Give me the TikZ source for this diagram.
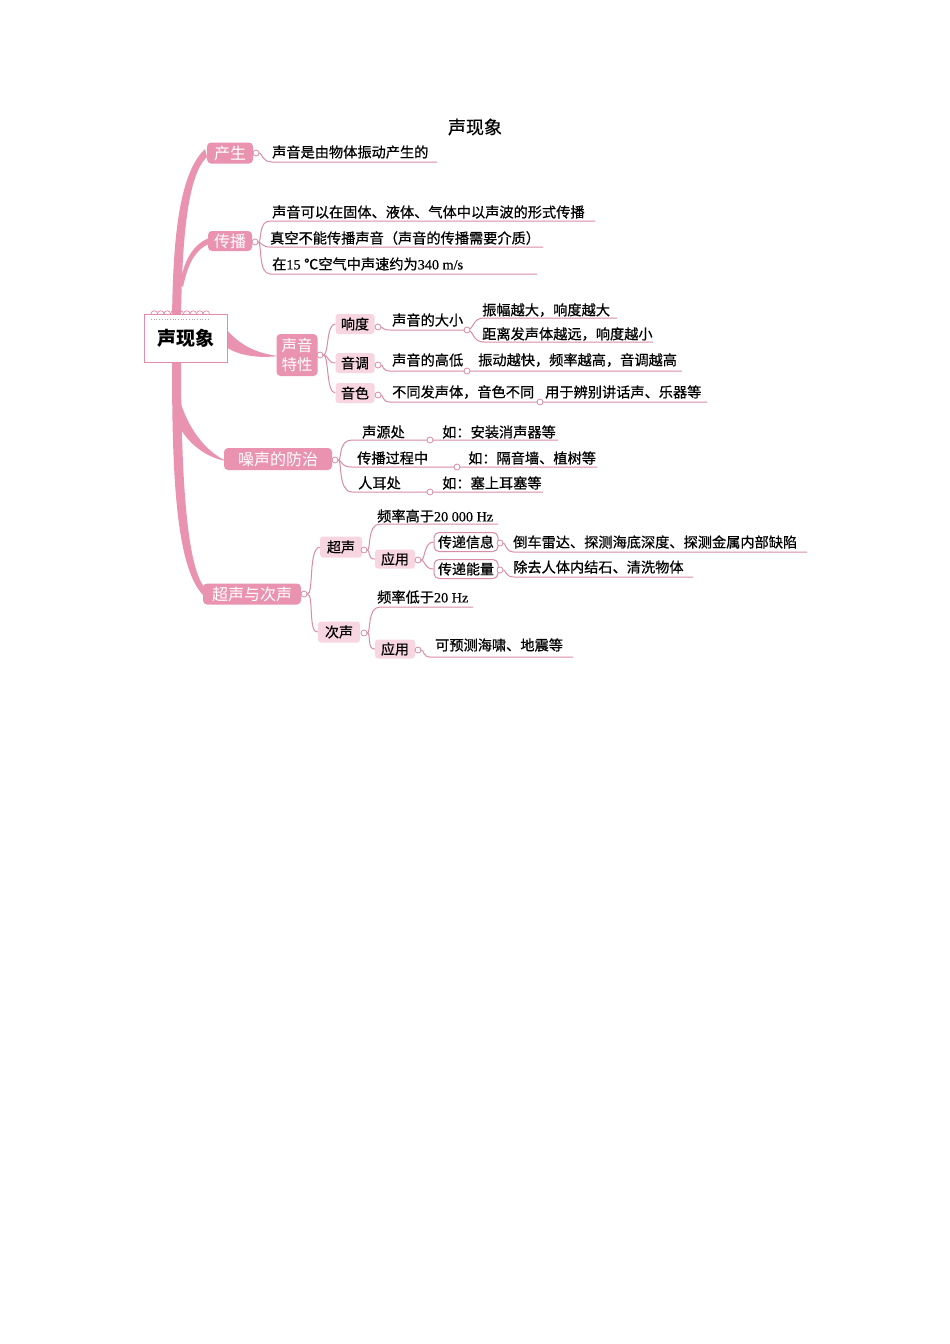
\documentclass[tikz,border=0pt]{standalone}
\usepackage{fontspec}
\setmainfont{Noto Sans CJK SC}
\newfontfamily\heavy[FakeBold=0.6]{Noto Sans CJK SC}
\newfontfamily\lat[FakeBold=0.4]{Liberation Serif}
\definecolor{pinkA}{HTML}{EA93B1}
\definecolor{pinkL}{HTML}{F7D6E1}
\definecolor{lineC}{HTML}{D98CA6}
\definecolor{boxC}{HTML}{E58AA8}
\tikzset{
 mainnode/.style={fill=pinkA, rounded corners=4pt, text=white, font=\fontsize{16}{18}\selectfont, inner sep=0pt, minimum height=21pt},
 subnode/.style={fill=pinkL, rounded corners=3pt, text=black, font=\heavy\fontsize{14}{16}\selectfont, inner sep=0pt, minimum height=20pt, minimum width=39pt},
 outnode/.style={fill=white, draw=lineC, line width=1pt, rounded corners=5pt, font=\heavy\fontsize{14}{16}\selectfont, inner sep=0pt, minimum height=19pt, minimum width=64pt},
 leaf/.style={anchor=west, inner sep=0pt, font=\heavy\fontsize{14.2}{16}\selectfont},
 dot/.style={circle, draw=lineC, fill=white, line width=0.8pt, inner sep=0pt, minimum size=6pt},
 conn/.style={draw=lineC, line width=1pt},
 trunk/.style={fill=pinkA},
}
\begin{document}
\begin{tikzpicture}[x=1pt,y=-1pt]
\fill[white] (0,0) rectangle (950,1344);
\useasboundingbox (0,0) rectangle (950,1344);

% title
\node[font=\heavy\fontsize{18}{20}\selectfont] (title) at (475,127) {声现象};

% trunk and thick branches
\fill[trunk] (172,318) .. controls (173,250) and (177,175) .. (205,149) -- (207,157) .. controls (186,176) and (182,250) .. (181,318) -- cycle;
\fill[trunk] (180,284) .. controls (184,259) and (194,244) .. (209,238) -- (209,244) .. controls (196,249) and (188,263) .. (183,287) -- cycle;
\fill[trunk] (172,358) .. controls (172,470) and (175,570) .. (205,597) -- (206,589) .. controls (186,570) and (181,470) .. (181,358) -- cycle;
\fill[trunk] (179,398) .. controls (188,428) and (204,450) .. (226,461) .. controls (204,457) and (188,442) .. (180,428) -- cycle;
\fill[trunk] (226,329) .. controls (240,345) and (255,353) .. (278,356) .. controls (255,359) and (236,354) .. (226,347) -- cycle;

% central node
\node[draw=boxC, fill=white, line width=0.8pt, minimum width=83pt, minimum height=48pt, inner sep=0pt, font=\bfseries\fontsize{19}{20}\selectfont] (root) at (185.5,338) {声现象};
\foreach \i in {0,...,8} \draw[boxC, line width=0.7pt] ({151+\i*6.5},314) arc[start angle=180, end angle=0, radius=3.25pt];
\draw[gray!70, dotted, line width=0.7pt] (151,319) -- (208,319);

% main nodes
\node[mainnode, minimum width=46pt] (cs) at (230,153) {产生};
\node[mainnode, minimum width=44pt, minimum height=20pt] (cb) at (230,241) {传播};
\node[mainnode, minimum width=41pt, minimum height=42pt, align=center, font=\fontsize{15.5}{19}\selectfont] (tx) at (297,355) {声音\\特性};
\node[mainnode, minimum width=108pt, minimum height=22pt] (zs) at (278,459) {噪声的防治};
\node[mainnode, minimum width=98pt] (cc) at (252,594) {超声与次声};

% sub nodes
\node[subnode] (xd) at (355,324) {响度};
\node[subnode] (yd) at (355,363) {音调};
\node[subnode] (ys) at (355,393) {音色};
\node[subnode, minimum width=42pt, minimum height=21pt] (cs2) at (341,547) {超声};
\node[subnode, minimum width=40pt, minimum height=19pt] (yy) at (395,559) {应用};
\node[subnode, minimum width=42pt, minimum height=21pt] (cx) at (339,632) {次声};
\node[subnode, minimum width=40pt, minimum height=19pt] (yy2) at (395,649) {应用};
\node[outnode] (xx) at (466,542) {传递信息};
\node[outnode] (nl) at (466,569) {传递能量};

% dots at node exits
\node[dot] (d1) at (256,153) {};
\node[dot] (d2) at (255,242) {};
\node[dot] (d3) at (320,355) {};
\node[dot] (d4) at (335,460) {};
\node[dot] (d5) at (304,594) {};
\node[dot] (dxd) at (378,327) {};
\node[dot] (dyd) at (378,365) {};
\node[dot] (dys) at (378,395) {};
\node[dot] (dcs) at (364,550) {};
\node[dot] (dyy) at (418,560) {};
\node[dot] (dcx) at (364,633) {};
\node[dot] (dyy2) at (418,650) {};
\node[dot] (dxx) at (500,543) {};
\node[dot] (dnl) at (500,570) {};

% underline end points
\coordinate (e1) at (437,162);
\coordinate (e2a) at (595,221);
\coordinate (e2b) at (543,247);
\coordinate (e2c) at (537,274);
\coordinate (mA) at (467,330);
\coordinate (e3a) at (617,318);
\coordinate (e3b) at (653,342);
\coordinate (e3c) at (682,371);
\coordinate (e3d) at (707,402);
\coordinate (e4a) at (558,440);
\coordinate (e4b) at (597,467);
\coordinate (e4c) at (543,492);
\coordinate (e5a) at (498,524);
\coordinate (e5b) at (807,552);
\coordinate (e5c) at (693,577);
\coordinate (e5d) at (473,607);
\coordinate (e5e) at (573,657);

% connectors
\draw[conn] (d1) .. controls (262,153) and (262,162) .. (272,162) -- (e1);
\draw[conn] (d2) .. controls (262,242) and (258,221) .. (270,221) -- (e2a);
\draw[conn] (d2) .. controls (261,242) and (262,247) .. (270,247) -- (e2b);
\draw[conn] (d2) .. controls (262,242) and (258,274) .. (270,274) -- (e2c);

\draw[conn] (d3) .. controls (329,355) and (326,324) .. (xd.west);
\draw[conn] (d3) .. controls (329,355) and (327,363) .. (yd.west);
\draw[conn] (d3) .. controls (329,355) and (326,393) .. (ys.west);

\draw[conn] (dxd) .. controls (383,327) and (382,330) .. (390,330) -- (mA);
\draw[conn] (mA) .. controls (474,330) and (472,318) .. (484,318) -- (e3a);
\draw[conn] (mA) .. controls (474,330) and (472,342) .. (484,342) -- (e3b);
\draw[conn] (dyd) .. controls (383,365) and (382,371) .. (390,371) -- (e3c);
\draw[conn] (dys) .. controls (383,395) and (382,402) .. (390,402) -- (e3d);

\draw[conn] (d4) .. controls (342,460) and (338,440) .. (352,440) -- (e4a);
\draw[conn] (d4) .. controls (342,460) and (340,467) .. (352,467) -- (e4b);
\draw[conn] (d4) .. controls (342,460) and (338,492) .. (352,492) -- (e4c);

\draw[conn] (d5) .. controls (314,594) and (308,549) .. (cs2.west);
\draw[conn] (d5) .. controls (314,594) and (308,634) .. (cx.west);
\draw[conn] (dcs) .. controls (371,550) and (367,524) .. (380,524) -- (e5a);
\draw[conn] (dcs) .. controls (370,550) and (368,560) .. (yy.west);
\draw[conn] (dyy) .. controls (425,560) and (424,542) .. (xx.west);
\draw[conn] (dyy) .. controls (425,560) and (424,569) .. (nl.west);
\draw[conn] (dxx) .. controls (506,543) and (505,552) .. (514,552) -- (e5b);
\draw[conn] (dnl) .. controls (506,570) and (505,577) .. (514,577) -- (e5c);
\draw[conn] (dcx) .. controls (371,633) and (367,607) .. (380,607) -- (e5d);
\draw[conn] (dcx) .. controls (371,633) and (367,650) .. (yy2.west);
\draw[conn] (dyy2) .. controls (424,650) and (423,657) .. (430,657) -- (e5e);

% dots sitting on lines
\node[dot] (m1) at (mA) {};
\node[dot] (m2) at (467,371) {};
\node[dot] (m3) at (540,402) {};
\node[dot] (m4) at (430,440) {};
\node[dot] (m5) at (457,467) {};
\node[dot] (m6) at (430,492) {};

% leaf texts
\node[leaf] (t1) at (272,152) {声音是由物体振动产生的};
\node[leaf] (t2a) at (272,212) {声音可以在固体、液体、气体中以声波的形式传播};
\node[leaf] (t2b) at (270,238) {真空不能传播声音（声音的传播需要介质）};
\node[leaf] (t2c) at (272,264) {在{\lat 15 }℃空气中声速约为{\lat 340 m/s}};
\node[leaf] (t3a) at (392,320) {声音的大小};
\node[leaf] (t3b) at (482,310) {振幅越大，响度越大};
\node[leaf] (t3c) at (482,334) {距离发声体越远，响度越小};
\node[leaf] (t3d) at (392,360) {声音的高低};
\node[leaf] (t3e) at (478,360) {振动越快，频率越高，音调越高};
\node[leaf] (t3f) at (392,392) {不同发声体，音色不同};
\node[leaf] (t3g) at (545,392) {用于辨别讲话声、乐器等};
\node[leaf] (t4a) at (362,432) {声源处};
\node[leaf] (t4b) at (442,432) {如：安装消声器等};
\node[leaf] (t4c) at (357,458) {传播过程中};
\node[leaf] (t4d) at (468,458) {如：隔音墙、植树等};
\node[leaf] (t4e) at (358,483) {人耳处};
\node[leaf] (t4f) at (442,483) {如：塞上耳塞等};
\node[leaf] (t5a) at (377,516) {频率高于{\lat 20 000 Hz}};
\node[leaf] (t5b) at (513,542) {倒车雷达、探测海底深度、探测金属内部缺陷};
\node[leaf] (t5c) at (513,567) {除去人体内结石、清洗物体};
\node[leaf] (t5d) at (377,597) {频率低于{\lat 20 Hz}};
\node[leaf] (t5e) at (435,645) {可预测海啸、地震等};
\end{tikzpicture}
\end{document}
